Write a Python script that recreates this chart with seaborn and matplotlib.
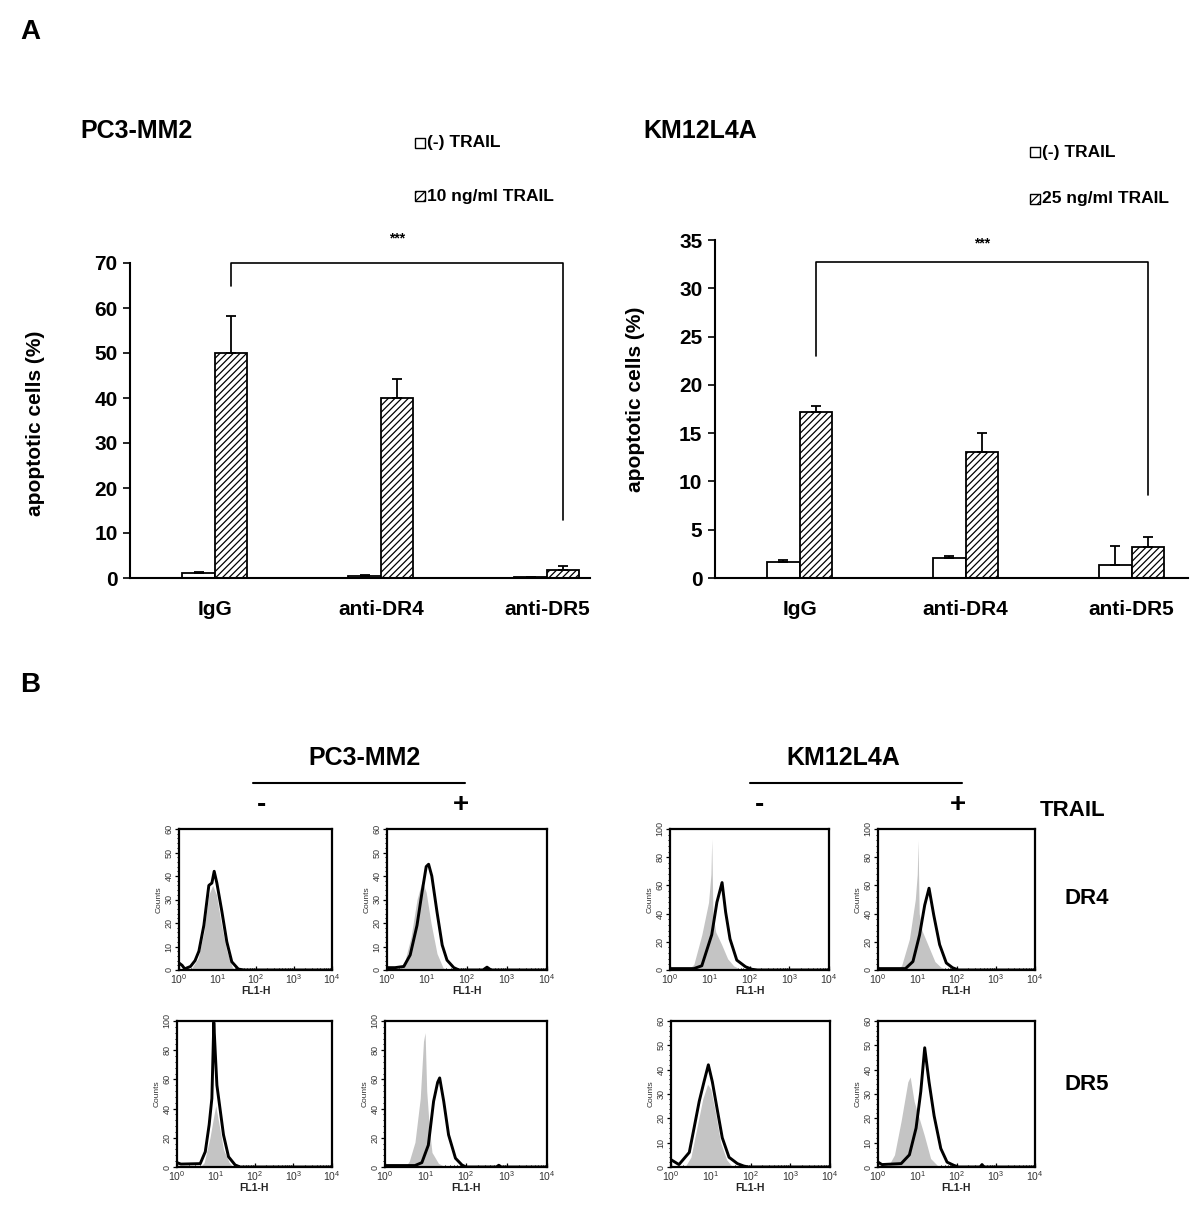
import numpy as np
import pandas as pd
import matplotlib
matplotlib.use('Agg')
import matplotlib.pyplot as plt
import seaborn as sns
from matplotlib.patches import Rectangle
from matplotlib.ticker import LogLocator, NullFormatter, MultipleLocator

sns.set_style('white')
plt.rcParams['font.family'] = ['Liberation Sans', 'DejaVu Sans']
plt.rcParams['hatch.linewidth'] = 0.9
plt.rcParams['mathtext.default'] = 'regular'
for k in ['text.color', 'axes.labelcolor', 'xtick.color', 'ytick.color', 'axes.edgecolor']:
    plt.rcParams[k] = 'black'

W, H = 1200, 1220

# ---- panel A data (percent apoptotic cells) ----
groups = ['IgG', 'anti-DR4', 'anti-DR5']
pc3_treat = ['(-) TRAIL', '10 ng/ml TRAIL']
pc3_none = [1.2, 0.4, 0.2]
pc3_none_err = [0.2, 0.2, 0.1]
pc3_trail = [50.0, 40.0, 1.8]
pc3_trail_err = [8.2, 4.2, 0.8]
pc3_bracket = [65, 70, 13]

km_treat = ['(-) TRAIL', '25 ng/ml TRAIL']
km_none = [1.7, 2.1, 1.3]
km_none_err = [0.15, 0.15, 2.0]
km_trail = [17.2, 13.0, 3.2]
km_trail_err = [0.6, 2.0, 1.0]
km_bracket = [23, 32.7, 8.6]

# ---- panel B data: (log10 FL1-H, counts) ----
pc3_dr4_neg_gray = [(0.3, 0), (0.5, 5), (0.65, 16), (0.78, 32), (0.88, 36), (0.98, 32),
                    (1.1, 20), (1.25, 8), (1.4, 1), (1.5, 0)]
pc3_dr4_neg_black = [(0, 3), (0.08, 2), (0.15, 0.5), (0.3, 1.5), (0.42, 4), (0.52, 8), (0.65, 19),
                     (0.78, 36), (0.86, 37), (0.92, 42), (0.99, 37), (1.12, 25), (1.25, 12),
                     (1.38, 3.5), (1.55, 0.4), (1.7, 0), (4, 0)]
pc3_dr4_pos_gray = [(0.3, 0), (0.45, 4), (0.6, 14), (0.75, 30), (0.88, 38), (0.98, 33),
                    (1.1, 20), (1.25, 7), (1.4, 1), (1.5, 0)]
pc3_dr4_pos_black = [(0, 1), (0.2, 1), (0.42, 1.5), (0.58, 6.4), (0.75, 19), (0.875, 33),
                     (0.98, 44), (1.04, 45), (1.12, 40), (1.25, 24.7), (1.38, 10.6), (1.5, 4.2),
                     (1.67, 1), (1.8, 0), (2.4, 0), (2.5, 1.2), (2.6, 0), (4, 0)]
pc3_dr5_neg_gray = [(0.6, 0), (0.7, 3), (0.85, 20), (0.95, 35), (1.0, 42), (1.08, 30),
                    (1.2, 12), (1.35, 3), (1.45, 0)]
pc3_dr5_neg_black = [(0, 3), (0.1, 2), (0.6, 2.3), (0.73, 10.5), (0.83, 29), (0.9, 47),
                     (0.95, 99), (0.99, 77), (1.03, 56), (1.12, 38), (1.2, 22), (1.33, 7),
                     (1.5, 1.4), (1.63, 0), (4, 0)]
pc3_dr5_pos_gray = [(0.5, 0), (0.6, 4), (0.74, 17), (0.87, 47), (0.95, 86), (0.99, 92),
                    (1.03, 52), (1.1, 25), (1.16, 10), (1.32, 2.5), (1.5, 0)]
pc3_dr5_pos_black = [(0, 1), (0.3, 1), (0.74, 1), (0.91, 3), (1.07, 15), (1.2, 45), (1.3, 58),
                     (1.35, 61), (1.45, 45), (1.57, 22), (1.74, 6), (1.9, 1.4), (2.0, 0),
                     (2.75, 0), (2.81, 1.2), (2.87, 0), (4, 0)]
km_dr4_neg_gray = [(0.45, 0), (0.6, 4), (0.8, 25), (0.97, 48), (1.03, 68), (1.05, 93),
                   (1.08, 40), (1.15, 27), (1.3, 18), (1.45, 8), (1.6, 3), (1.8, 0)]
km_dr4_neg_black = [(0, 1), (0.6, 1), (0.8, 3), (1.05, 25), (1.18, 48), (1.31, 62), (1.4, 41),
                    (1.51, 22), (1.68, 7), (1.9, 2.3), (2.06, 0.5), (2.2, 0), (4, 0)]
km_dr4_pos_gray = [(0.45, 0), (0.6, 3), (0.8, 22), (0.95, 50), (1.0, 68), (1.02, 92),
                   (1.05, 40), (1.12, 28), (1.3, 16), (1.45, 6), (1.6, 2), (1.8, 0)]
km_dr4_pos_black = [(0, 1), (0.7, 1), (0.89, 6), (1.06, 25), (1.19, 46), (1.3, 58), (1.42, 39),
                    (1.57, 18), (1.74, 5), (1.9, 1.6), (2.05, 0), (4, 0)]
km_dr5_neg_gray = [(0.35, 0), (0.5, 4), (0.65, 16), (0.8, 28), (0.92, 34), (1.0, 32),
                   (1.1, 24), (1.25, 10), (1.4, 3), (1.55, 0)]
km_dr5_neg_black = [(0, 3), (0.2, 1), (0.46, 6), (0.58, 16), (0.71, 27), (0.83, 35), (0.94, 42),
                    (1.04, 35), (1.17, 23), (1.29, 12), (1.46, 4), (1.67, 1.4), (1.83, 0.4),
                    (1.95, 0), (4, 0)]
km_dr5_pos_gray = [(0.25, 0), (0.42, 5), (0.59, 19), (0.76, 35), (0.82, 37), (0.92, 27),
                   (1.05, 20), (1.18, 13), (1.34, 3.5), (1.51, 0.7), (1.6, 0)]
km_dr5_pos_black = [(0, 2), (0.1, 1), (0.59, 1.4), (0.8, 5), (0.97, 16), (1.09, 31), (1.19, 49),
                    (1.3, 35), (1.43, 21), (1.6, 7.6), (1.76, 2), (1.93, 0.7), (2.05, 0),
                    (2.6, 0), (2.65, 1), (2.7, 0), (4, 0)]

fig = plt.figure(figsize=(W / 100, H / 100), dpi=100)


def px(x0, y0, x1, y1):
    return [x0 / W, 1 - y1 / H, (x1 - x0) / W, (y1 - y0) / H]


# overlay in pixel coords for labels
ov = fig.add_axes([0, 0, 1, 1])
ov.set_xlim(0, W)
ov.set_ylim(H, 0)
ov.axis('off')


def bar_panel(box, none, none_err, trail, trail_err, treat, ymax, step, xmax, bracket, star_y, ylab_y):
    ax = fig.add_axes(px(*box))
    df = pd.DataFrame({'group': groups * 2,
                       'treatment': [treat[0]] * 3 + [treat[1]] * 3,
                       'value': none + trail})
    sns.barplot(data=df, x='group', y='value', hue='treatment', order=groups, hue_order=treat,
                palette=['white', 'white'], edgecolor='black', linewidth=1.3, width=0.39,
                errorbar=None, legend=False, ax=ax)
    for bar in ax.containers[1]:
        bar.set_hatch('/////')
    for cont, err in zip(ax.containers, [none_err, trail_err]):
        for bar, e in zip(cont, err):
            xc = bar.get_x() + bar.get_width() / 2
            ax.errorbar(xc, bar.get_height(), yerr=[[0], [e]], color='black', lw=1.3,
                        capsize=3.5, capthick=1.3)
    bl = ax.containers[1][0]
    br = ax.containers[1][2]
    x0 = bl.get_x() + bl.get_width() / 2
    x1 = br.get_x() + br.get_width() / 2
    ax.plot([x0, x0, x1, x1], [bracket[0], bracket[1], bracket[1], bracket[2]],
            color='black', lw=1.2, clip_on=False)
    ax.text((x0 + x1) / 2, star_y, '***', ha='center', va='center', fontsize=10,
            fontweight='bold', clip_on=False)
    ax.set_xlim(-0.51, xmax)
    ax.set_ylim(0, ymax)
    ax.set_yticks(np.arange(0, ymax + 0.1, step))
    sns.despine(ax=ax)
    for s in ['left', 'bottom']:
        ax.spines[s].set_linewidth(1.5)
        ax.spines[s].set_color('black')
    ax.tick_params(axis='y', direction='out', length=5, width=1.2, labelsize=15, pad=4, left=True)
    ax.tick_params(axis='x', length=0, labelsize=15, pad=16)
    for lab in ax.get_xticklabels() + ax.get_yticklabels():
        lab.set_fontweight('bold')
    ax.set_xlabel('')
    ax.set_ylabel('apoptotic cells (%)', fontsize=15, fontweight='bold')
    ax.yaxis.set_label_coords(ylab_y[0], ylab_y[1])
    return ax


bar_panel((130, 263, 590, 578), pc3_none, pc3_none_err, pc3_trail, pc3_trail_err, pc3_treat,
          70, 10, 2.26, pc3_bracket, 75.5, (-0.185, 0.49))
bar_panel((715, 240, 1188, 578), km_none, km_none_err, km_trail, km_trail_err, km_treat,
          35, 5, 2.34, km_bracket, 34.6, (-0.148, 0.53))


def legend_entry(x, y, label, hatch):
    ov.add_patch(Rectangle((x, y - 5), 10, 10, facecolor='white', edgecolor='black',
                           lw=1.0, hatch=hatch))
    ov.text(x + 12, y, label, fontsize=12.5, fontweight='bold', va='center', ha='left')


legend_entry(415, 143, pc3_treat[0], '')
legend_entry(415, 196, pc3_treat[1], '////')
legend_entry(1030, 152, km_treat[0], '')
legend_entry(1030, 199, km_treat[1], '////')

ov.text(20, 32, 'A', fontsize=20, fontweight='bold', va='center', ha='left')
ov.text(20, 685, 'B', fontsize=20, fontweight='bold', va='center', ha='left')
ov.text(80, 131, 'PC3-MM2', fontsize=18, fontweight='bold', va='center', ha='left')
ov.text(643, 131, 'KM12L4A', fontsize=18, fontweight='bold', va='center', ha='left')

# panel B headings
for cx, name, xa, xb in [(365, 'PC3-MM2', 253, 465), (843, 'KM12L4A', 750, 962)]:
    ov.text(cx, 758, name, fontsize=18, fontweight='bold', va='center', ha='center')
    ov.plot([xa, xb], [783, 783], color='black', lw=1.5)
    ov.text(xa + 9, 805, '-', fontsize=20, fontweight='bold', va='center', ha='center')
    ov.text(xb - 4, 805, '+', fontsize=20, fontweight='bold', va='center', ha='center')
ov.text(1040, 810, 'TRAIL', fontsize=16, fontweight='bold', va='center', ha='left')
ov.text(1065, 898, 'DR4', fontsize=16, fontweight='bold', va='center', ha='left')
ov.text(1065, 1085, 'DR5', fontsize=16, fontweight='bold', va='center', ha='left')


def hist_panel(box, gray, black, ymax):
    ax = fig.add_axes(px(*box))
    gx = 10 ** np.array([p[0] for p in gray])
    gy = np.array([p[1] for p in gray])
    bx = 10 ** np.array([p[0] for p in black])
    by = np.array([p[1] for p in black])
    ax.fill_between(gx, gy, color='#c4c4c4', lw=0)
    sns.lineplot(x=bx, y=by, color='black', lw=2.1, sort=False, estimator=None, ax=ax)
    ax.set_xscale('log')
    ax.set_xlim(1, 1e4)
    ax.set_ylim(0, ymax)
    step = 10 if ymax == 60 else 20
    ax.yaxis.set_major_locator(MultipleLocator(step))
    ax.yaxis.set_minor_locator(MultipleLocator(step / 5))
    ax.xaxis.set_major_locator(LogLocator(base=10, numticks=10))
    ax.xaxis.set_minor_locator(LogLocator(base=10, subs=np.arange(2, 10), numticks=10))
    ax.xaxis.set_minor_formatter(NullFormatter())
    for s in ax.spines.values():
        s.set_linewidth(1.6)
        s.set_color('black')
        s.set_visible(True)
    ax.tick_params(axis='y', which='major', direction='out', length=3, width=0.9,
                   labelsize=6.5, pad=1, labelrotation=90, left=True, labelcolor='#333333')
    ax.tick_params(axis='y', which='minor', direction='out', length=1.5, width=0.7, left=True)
    ax.tick_params(axis='x', which='major', direction='in', length=3, width=0.9,
                   labelsize=7.5, pad=1.5, bottom=True, labelcolor='#333333')
    ax.tick_params(axis='x', which='minor', direction='in', length=1.5, width=0.7, bottom=True)
    for lab in ax.get_yticklabels():
        lab.set_va('center')
    ax.set_xlabel('FL1-H', fontsize=7.5, fontweight='bold', labelpad=0, color='#222222')
    ax.set_ylabel('Counts', fontsize=6, labelpad=1, color='#333333')
    ax.grid(False)
    return ax


hist_panel((179, 829, 332, 970), pc3_dr4_neg_gray, pc3_dr4_neg_black, 60)
hist_panel((387, 829, 547, 970), pc3_dr4_pos_gray, pc3_dr4_pos_black, 60)
hist_panel((670, 829, 829, 970), km_dr4_neg_gray, km_dr4_neg_black, 100)
hist_panel((878, 829, 1035, 970), km_dr4_pos_gray, km_dr4_pos_black, 100)
hist_panel((177, 1021, 332, 1167), pc3_dr5_neg_gray, pc3_dr5_neg_black, 100)
hist_panel((385, 1021, 547, 1167), pc3_dr5_pos_gray, pc3_dr5_pos_black, 100)
hist_panel((671, 1021, 830, 1167), km_dr5_neg_gray, km_dr5_neg_black, 60)
hist_panel((878, 1021, 1035, 1167), km_dr5_pos_gray, km_dr5_pos_black, 60)

fig.savefig('out.png', dpi=100)
